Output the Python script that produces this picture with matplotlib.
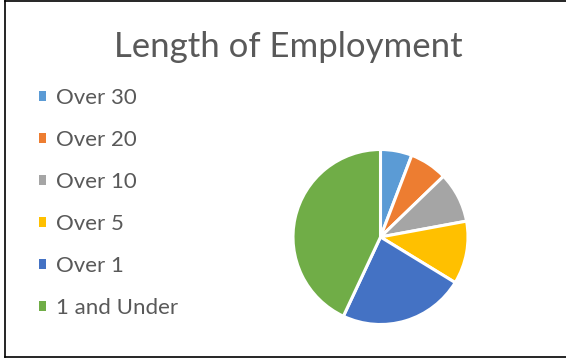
import matplotlib
matplotlib.use("Agg")
import matplotlib.pyplot as plt
from matplotlib.patches import Patch
from matplotlib.lines import Line2D

plt.rcParams['font.family'] = ['Lato', 'DejaVu Sans']

labels = ['Over 30', 'Over 20', 'Over 10', 'Over 5', 'Over 1', '1 and Under']
values = [5, 6, 8, 10, 20, 37]
colors = ['#5B9BD5', '#ED7D31', '#A5A5A5', '#FFC000', '#4472C4', '#70AD47']
text_color = '#595959'

W, H = 566, 358
fig = plt.figure(figsize=(W / 100, H / 100), dpi=100)

# 外框
for xs, ys in [([5, 5], [1, 357]), ([5, W], [1, 1]), ([5, W], [357, 357])]:
    fig.add_artist(Line2D([x / W for x in xs], [1 - y / H for y in ys],
                          color='black', lw=1.2, transform=fig.transFigure))

fig.text(288 / W, 1 - 47 / H, 'Length of Employment', ha='center', va='center',
         fontsize=25, color=text_color)

cx, cy, r = 380.5, 237, 87.5
ax = fig.add_axes([(cx - r) / W, 1 - (cy + r) / H, 2 * r / W, 2 * r / H])
ax.pie(values, colors=colors, startangle=90, counterclock=False,
       wedgeprops=dict(edgecolor='white', linewidth=2.2))
ax.set_xlim(-1, 1)
ax.set_ylim(-1, 1)
ax.set_aspect('equal')
ax.axis('off')

handles = [Patch(facecolor=c, edgecolor='none') for c in colors]
fig.legend(handles, labels, loc='upper left', bbox_to_anchor=(39 / W, 1 - 88 / H),
           frameon=False, fontsize=16, labelcolor=text_color,
           handlelength=0.32, handleheight=0.32, handletextpad=0.45,
           labelspacing=0.99, borderpad=0, borderaxespad=0)

plt.savefig('out.png', dpi=100)
